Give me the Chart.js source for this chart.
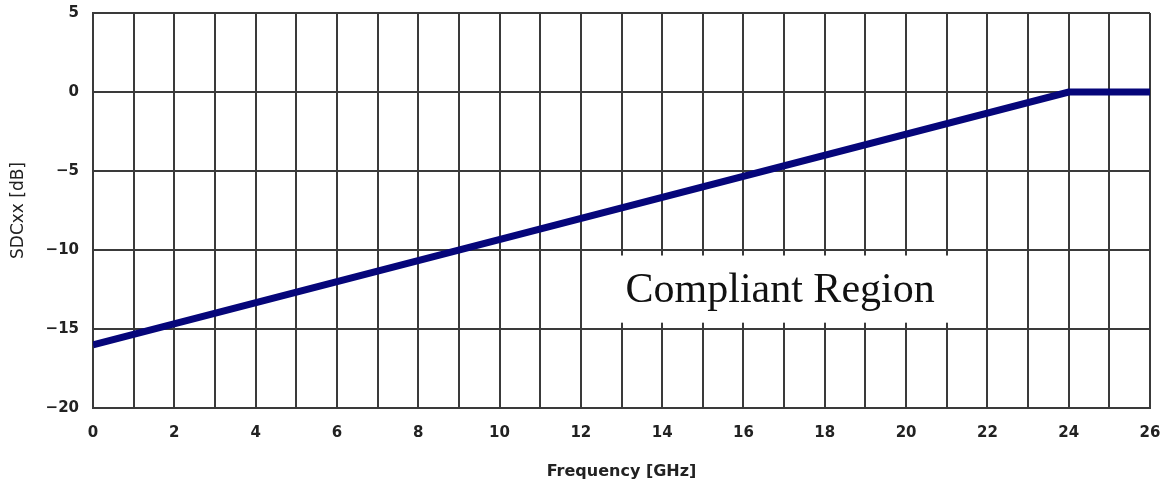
<!DOCTYPE html>
<html lang="en">
<head>
<meta charset="UTF-8">
<title>SDCxx limit</title>
<script src="https://cdn.jsdelivr.net/npm/chart.js"></script>
<style>
  html, body { margin: 0; padding: 0; background: #fff; }
  #wrap { width: 1163px; height: 490px; }
</style>
</head>
<body>
<div id="wrap"><canvas id="chart"></canvas></div>
<script>
// limit line corners (GHz, dB)
var freqGHz = [0, 24, 26];
var sdcDb = [-16, 0, 0];
var xTickStep = 1;
var yTickStep = 5;
var regionLabel = 'Compliant Region';
var regionFreq = [12, 22];
var regionDb = [-10.35, -14.6];

var gridColor = '#3a3a3a';
var labelFont = '"DejaVu Sans", "Liberation Sans", sans-serif';

// white label box over the grid
var regionBox = {
  id: 'regionBox',
  beforeDatasetsDraw: function(chart) {
    var ctx = chart.ctx;
    var x = chart.scales.x, y = chart.scales.y;
    var x0 = x.getPixelForValue(regionFreq[0]) + 2;
    var x1 = x.getPixelForValue(regionFreq[1]) - 2;
    var y0 = y.getPixelForValue(regionDb[0]);
    var y1 = y.getPixelForValue(regionDb[1]);
    ctx.save();
    ctx.fillStyle = '#fff';
    ctx.fillRect(x0, y0, x1 - x0, y1 - y0);
    ctx.fillStyle = '#111';
    ctx.font = '42px "Liberation Serif", "DejaVu Serif", serif';
    ctx.textAlign = 'center';
    ctx.textBaseline = 'middle';
    ctx.fillText(regionLabel, (x0 + x1) / 2 - 4, (y0 + y1) / 2 + 2);
    ctx.restore();
  }
};

var points = freqGHz.map(function(f, i) { return { x: f, y: sdcDb[i] }; });

new Chart(document.getElementById('chart'), {
  type: 'scatter',
  data: {
    datasets: [{
      data: points,
      showLine: true,
      borderColor: '#06067a',
      borderWidth: 7,
      pointRadius: 0,
      fill: false
    }]
  },
  options: {
    responsive: true,
    maintainAspectRatio: false,
    animation: false,
    layout: { padding: { top: 13, right: 13 } },
    plugins: {
      legend: { display: false },
      tooltip: { enabled: false }
    },
    scales: {
      x: {
        type: 'linear',
        min: 0,
        max: 26,
        afterFit: function(s) {
          s.height = 82;
          s.paddingLeft = 0;
          s.paddingRight = 0;
        },
        grid: { color: gridColor, lineWidth: 2, drawTicks: false },
        border: { color: gridColor, width: 2 },
        ticks: {
          stepSize: xTickStep,
          autoSkip: false,
          maxRotation: 0,
          padding: 16,
          color: '#222',
          font: { family: labelFont, size: 15, weight: 'bold' },
          callback: function(v) { return v % 2 === 0 ? String(v) : ''; }
        },
        title: {
          display: true,
          text: 'Frequency [GHz]',
          color: '#222',
          padding: { top: 4, bottom: 9 },
          font: { family: labelFont, size: 16, weight: 'bold' }
        }
      },
      y: {
        min: -20,
        max: 5,
        afterFit: function(s) {
          s.width = 93;
          s.paddingTop = 0;
          s.paddingBottom = 0;
        },
        grid: { color: gridColor, lineWidth: 2, drawTicks: false },
        border: { color: gridColor, width: 2 },
        ticks: {
          stepSize: yTickStep,
          padding: 14,
          color: '#222',
          font: { family: labelFont, size: 15, weight: 'bold' },
          callback: function(v) { return String(v).replace('-', '\u2212'); }
        },
        title: {
          display: true,
          text: 'SDCxx [dB]',
          color: '#222',
          padding: { top: 8, bottom: 2 },
          font: { family: labelFont, size: 17 }
        }
      }
    }
  },
  plugins: [regionBox]
});
</script>
</body>
</html>
